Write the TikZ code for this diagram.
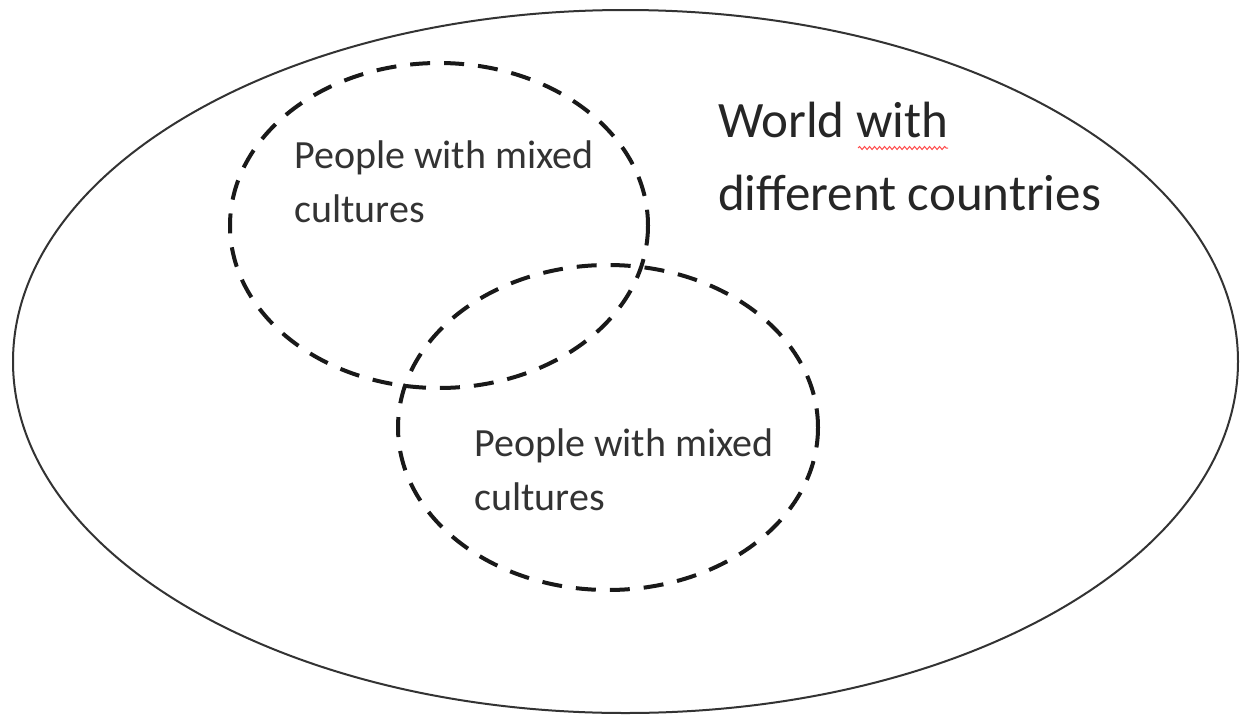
\documentclass[tikz,border=0pt]{standalone}
\usepackage{fontspec}
\setmainfont{Carlito}
\usetikzlibrary{decorations.pathmorphing}
\begin{document}
\begin{tikzpicture}[x=1pt,y=-1pt,
  world/.style={draw=black!80,line width=2pt},
  group/.style={draw=black!90,line width=4pt,dash pattern=on 20pt off 14pt},
  bigtext/.style={inner sep=0pt,anchor=base west,align=left,text=black!85,font=\fontsize{51}{73}\selectfont},
  smalltext/.style={inner sep=0pt,anchor=base west,align=left,text=black!80,font=\fontsize{40}{54}\selectfont},
  spellmark/.style={draw=red!70,line width=1pt,decorate,decoration={snake,amplitude=1.5pt,segment length=5pt}}]
  \useasboundingbox (0,0) rectangle (1240,718);
  \fill[white] (0,0) rectangle (1240,718);
  % the world
  \draw[world] (625.5,361.5) ellipse [x radius=612.5, y radius=351.5];
  % two overlapping groups
  \draw[group] (439,225.5) ellipse [x radius=209, y radius=162.5];
  \draw[group] (608,427.5) ellipse [x radius=210, y radius=162.5];
  % labels (anchored at the baseline of their last line)
  \node[bigtext] (world) at (718,210) {World with\\different countries};
  \node[smalltext] (g1) at (294,222) {People with mixed\\cultures};
  \node[smalltext] (g2) at (474,510) {People with mixed\\cultures};
  % spelling mark under "with"
  \coordinate (s1) at (858,148);
  \coordinate (s2) at (948,148);
  \draw[spellmark] (s1) -- (s2);
\end{tikzpicture}
\end{document}
